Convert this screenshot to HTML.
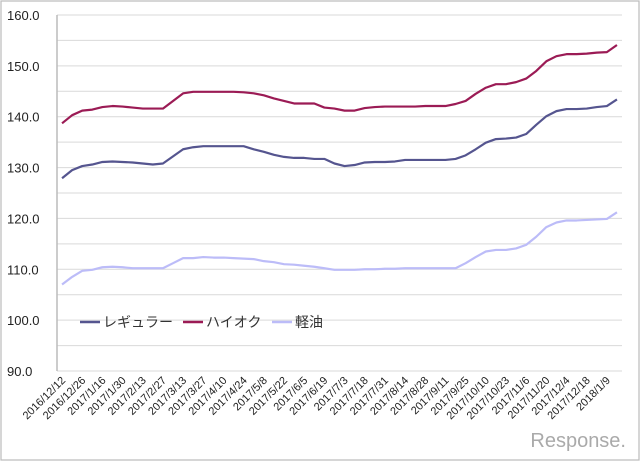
<!DOCTYPE html>
<html><head><meta charset="utf-8"><style>
body{margin:0;background:#fff}
svg{display:block;font-family:"Liberation Sans","Noto Sans CJK JP",sans-serif}
</style></head><body>
<svg id="c" width="640" height="461" viewBox="0 0 640 461">
<rect x="1" y="1" width="638" height="459" fill="#fff" stroke="#bbb" stroke-width="1.2"/>
<g id="grid"></g><g id="ylab"></g><g id="xlab"></g><g id="lines"></g>
<g>
<line x1="80" y1="322" x2="100" y2="322" stroke="#55558f" stroke-width="2.5"/>
<text x="103" y="327" font-size="14" fill="#333">レギュラー</text>
<line x1="183" y1="322" x2="203" y2="322" stroke="#9b1b55" stroke-width="2.5"/>
<text x="206" y="327" font-size="14" fill="#333">ハイオク</text>
<line x1="272" y1="322" x2="292" y2="322" stroke="#bcbcf8" stroke-width="2.5"/>
<text x="295" y="327" font-size="14" fill="#333">軽油</text>
</g>
<text x="626" y="447" text-anchor="end" font-size="20" fill="#aaa">Response.</text>
</svg>
<script>
const labels=["2016/12/12","2016/12/26","2017/1/16","2017/1/30","2017/2/13","2017/2/27","2017/3/13","2017/3/27","2017/4/10","2017/4/24","2017/5/8","2017/5/22","2017/6/5","2017/6/19","2017/7/3","2017/7/18","2017/7/31","2017/8/14","2017/8/28","2017/9/11","2017/9/25","2017/10/10","2017/10/23","2017/11/6","2017/11/20","2017/12/4","2017/12/18","2018/1/9"];
const yTicks=[90,100,110,120,130,140,150,160];
const regular=[127.9,129.5,130.3,130.6,131.1,131.2,131.1,131.0,130.8,130.6,130.8,132.2,133.6,134.0,134.2,134.2,134.2,134.2,134.2,133.6,133.1,132.5,132.1,131.9,131.9,131.7,131.7,130.8,130.3,130.5,131.0,131.1,131.1,131.2,131.5,131.5,131.5,131.5,131.5,131.7,132.4,133.6,134.9,135.6,135.7,135.9,136.6,138.4,140.1,141.1,141.5,141.5,141.6,141.9,142.1,143.4];
const premium=[138.7,140.3,141.2,141.4,141.9,142.1,142.0,141.8,141.6,141.6,141.6,143.1,144.6,144.9,144.9,144.9,144.9,144.9,144.8,144.6,144.2,143.6,143.1,142.6,142.6,142.6,141.8,141.6,141.2,141.2,141.7,141.9,142.0,142.0,142.0,142.0,142.1,142.1,142.1,142.5,143.1,144.5,145.7,146.4,146.4,146.8,147.5,149.0,150.9,151.9,152.3,152.3,152.4,152.6,152.7,154.1];
const diesel=[107.0,108.5,109.7,109.9,110.4,110.5,110.4,110.2,110.2,110.2,110.2,111.2,112.2,112.2,112.4,112.3,112.3,112.2,112.1,112.0,111.6,111.4,111.0,110.9,110.7,110.5,110.2,109.9,109.9,109.9,110.0,110.0,110.1,110.1,110.2,110.2,110.2,110.2,110.2,110.2,111.2,112.4,113.5,113.8,113.8,114.1,114.8,116.4,118.3,119.2,119.6,119.6,119.7,119.8,119.9,121.2];
const NS="http://www.w3.org/2000/svg";
const X0=57,X1=622,N=regular.length,step=(X1-X0)/N;
const x=i=>X0+step*(i+0.5);
const y=v=>371-(v-90)*(356/70);
function mk(t,a,p){const e=document.createElementNS(NS,t);for(const k in a)e.setAttribute(k,a[k]);document.getElementById(p).appendChild(e);return e;}
for(let v=90;v<=160;v+=5){
 const l=mk('line',{x1:X0,x2:X1,y1:y(v),y2:y(v),stroke:'#d9d9d9','stroke-width':1},'grid');
 
 
}
const ax=mk('line',{x1:X0,x2:X0,y1:y(160),y2:y(90),stroke:'#bbb','stroke-width':1.5},'grid');


yTicks.forEach(v=>{
 const t=mk('text',{x:7,y:y(v)+5,'font-size':13,fill:'#222'},'ylab');t.textContent=v.toFixed(1);
 
 
});
labels.forEach((s,k)=>{
 const xx=x(k*2)+4,yy=381;
 const t=mk('text',{x:xx,y:yy,'font-size':11,fill:'#222','text-anchor':'end',transform:`rotate(-45 ${xx} ${yy})`},'xlab');t.textContent=s;
 
 
});
[[regular,'#55558f','regular-line'],[premium,'#9b1b55','premium-line'],[diesel,'#bcbcf8','diesel-line']].forEach(([d,c,n])=>{
 const p=mk('polyline',{points:d.map((v,i)=>x(i)+','+y(v)).join(' '),fill:'none',stroke:c,'stroke-width':2.2,'stroke-linejoin':'round'},'lines');
 
 
});
</script>
</body></html>
